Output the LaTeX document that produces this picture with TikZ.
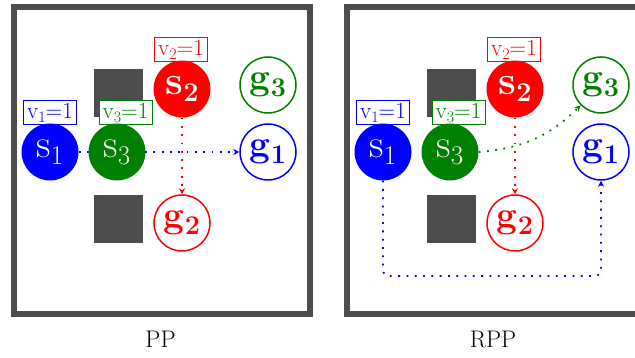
\documentclass[tikz,border=0pt]{standalone}
\usepackage{fontspec}
\usetikzlibrary{arrows.meta}
\definecolor{wall}{HTML}{4D4D4D}
\definecolor{dgreen}{RGB}{0,128,0}
\newcommand\bigsub[1]{\raisebox{-7pt}{\fontsize{27}{29}\selectfont #1}}
\newcommand\smallsub[1]{\raisebox{-4pt}{\fontsize{16}{18}\selectfont #1}}
\tikzset{
  agent/.style={circle, minimum size=57pt, inner sep=0pt, fill=#1, text=white,
    font=\fontsize{40}{44}\selectfont},
  goal/.style={circle, minimum size=56pt, inner sep=0pt, draw=#1, line width=1.5pt,
    fill=white, text=#1, font=\fontsize{37}{40}\selectfont\bfseries},
  vlabel/.style={draw=#1, text=#1, fill=white, line width=0.8pt, inner sep=1pt,
    minimum height=24pt, minimum width=53pt, anchor=south,
    font=\fontsize{23}{25}\selectfont},
  route/.style={draw=#1, line width=1.8pt, dash pattern=on 1.8pt off 6.5pt,
    -{Stealth[length=6pt,width=6pt]}},
  obstacle/.style={fill=wall},
  frame/.style={draw=wall, line width=6pt},
  caption/.style={anchor=base, font=\fontsize{24}{27}\selectfont}
}
\begin{document}
\begin{tikzpicture}[x=1pt,y=1pt]
\useasboundingbox (0,0) rectangle (635,358);
\clip (0,0) rectangle (635,358);
% ---------------- PP ----------------
\draw[frame] (14,44) rectangle (310,351);
\fill[obstacle] (94,241) rectangle (143,289);
\fill[obstacle] (94,115) rectangle (143,163);
\node[vlabel=blue] (l1) at (50,233) {v\smallsub{1}=1};
\node[vlabel=dgreen] (l3) at (125.5,233) {v\smallsub{3}=1};
\node[vlabel=red] (l2) at (181,296) {v\smallsub{2}=1};
\node[goal=dgreen] (g3) at (268,273) {g\bigsub{3}};
\node[goal=blue] (g1) at (268,206) {g\bigsub{1}};
\node[goal=red] (g2) at (182,135) {g\bigsub{2}};
\node[agent=blue] (s1) at (50,206) {s\bigsub{1}};
\node[agent=red] (s2) at (182,269) {\bfseries s\bigsub{2}};
\draw[route=blue] (s1) -- (g1);
\draw[route=red] (s2) -- (g2);
\node[agent=dgreen] (s3) at (117,206) {s\bigsub{3}};
\node[caption] (cap1) at (160.5,10) {PP};
% ---------------- RPP ----------------
\draw[frame] (347,44) rectangle (643,351);
\fill[obstacle] (427,241) rectangle (476,289);
\fill[obstacle] (427,115) rectangle (476,163);
\node[vlabel=blue] (r1) at (383,233) {v\smallsub{1}=1};
\node[vlabel=dgreen] (r3) at (458.5,233) {v\smallsub{3}=1};
\node[vlabel=red] (r2) at (514,296) {v\smallsub{2}=1};
\node[goal=dgreen] (g3r) at (601,273) {g\bigsub{3}};
\node[goal=blue] (g1r) at (601,206) {g\bigsub{1}};
\node[goal=red] (g2r) at (515,135) {g\bigsub{2}};
\node[agent=blue] (s1r) at (383,206) {s\bigsub{1}};
\node[agent=dgreen] (s3r) at (450,206) {s\bigsub{3}};
\node[agent=red] (s2r) at (515,269) {\bfseries s\bigsub{2}};
\coordinate (bturn) at (601,82);
\draw[route=blue, rounded corners=6pt] (s1r.south) |- (bturn) -- (g1r.south);
\draw[route=red] (s2r) -- (g2r);
\draw[route=dgreen] (s3r.east) to[bend right=20] (g3r.south west);
\node[caption] (cap2) at (493,10) {RPP};
\end{tikzpicture}
\end{document}
